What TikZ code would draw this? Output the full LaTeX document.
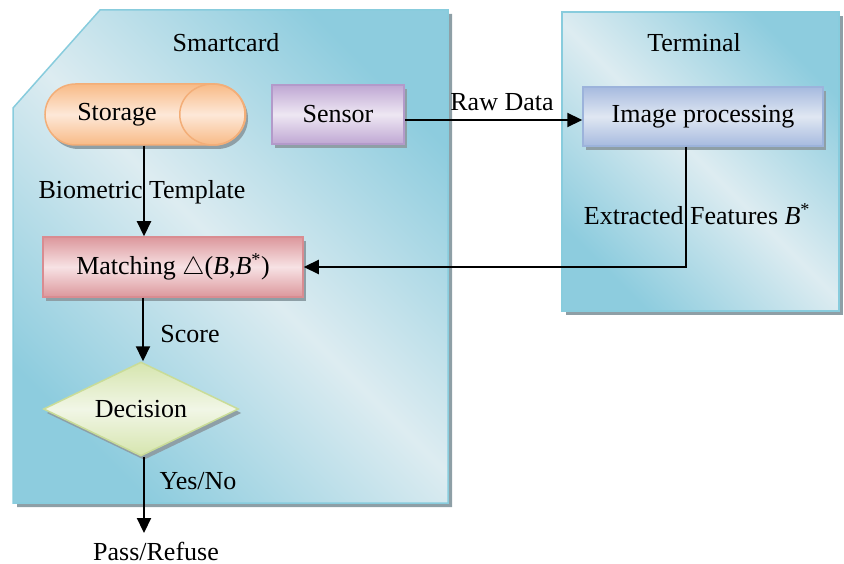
\documentclass[tikz,border=0pt]{standalone}
\usepackage{fontspec}
\setmainfont{Liberation Serif}
\usetikzlibrary{shapes.geometric,shapes.misc,shadows,arrows.meta}
\definecolor{pandark}{HTML}{8DCCDE}
\definecolor{panlight}{HTML}{DDECF1}
\definecolor{panborder}{HTML}{88CCDD}
\definecolor{shadowc}{HTML}{8E9FA6}
\definecolor{orD}{HTML}{F8BA86}
\definecolor{orL}{HTML}{FDE8D8}
\definecolor{orB}{HTML}{F3AE78}
\definecolor{puD}{HTML}{BFA7D3}
\definecolor{puL}{HTML}{EEE7F3}
\definecolor{puB}{HTML}{B39ACA}
\definecolor{blD}{HTML}{A6BADF}
\definecolor{blL}{HTML}{E0E7F2}
\definecolor{blB}{HTML}{9CB3DB}
\definecolor{reD}{HTML}{DC979C}
\definecolor{reL}{HTML}{F7E2E4}
\definecolor{reB}{HTML}{D98C91}
\definecolor{grD}{HTML}{D6E5AE}
\definecolor{grL}{HTML}{F1F6E6}
\definecolor{grB}{HTML}{C9DC98}
\tikzset{
  every node/.style={font=\fontsize{26}{30}\selectfont, inner sep=0pt},
  nshadow/.style={drop shadow={shadow xshift=3pt,shadow yshift=-4pt,fill=shadowc,opacity=1}},
  panel/.style={draw=panborder, line width=1.5pt, shading=axis, bottom color=pandark, top color=pandark, middle color=panlight, shading angle=-45},
  boxbase/.style={line width=1.5pt, shading=axis, shading angle=-35, nshadow},
  arr/.style={line width=2.2pt, -{Triangle[width=14pt,length=15pt]}},
  lbl/.style={anchor=center}
}
\begin{document}
\begin{tikzpicture}[x=1pt,y=-1pt]
\useasboundingbox (0,0) rectangle (844,564);
% panels
\fill[shadowc] (104,14) -- (452,14) -- (452,507) -- (17,507) -- (17,112) -- cycle;
\path[panel] (100,10) -- (448,10) -- (448,503) -- (13,503) -- (13,108) -- cycle;
\fill[shadowc] (566,16) rectangle (843,315);
\path[panel] (562,12) rectangle (839,311);
\node[lbl] (smartcard) at (226,43) {Smartcard};
\node[lbl] (terminal) at (694,43) {Terminal};
% nodes
\node[rounded rectangle, boxbase, draw=orB, top color=orD, bottom color=orD, middle color=orL,
      minimum width=200pt, minimum height=61pt] (storage) at (145,114.5) {};
\draw[orB, line width=1.5pt] ([xshift=-33pt]storage.east) ellipse [x radius=33pt, y radius=30.5pt];
\node[lbl] (storagetxt) at (117,115) {Storage};
\node[rectangle, boxbase, draw=puB, top color=puD, bottom color=puD, middle color=puL,
      minimum width=132pt, minimum height=59pt] (sensor) at (338,114.5) {Sensor};
\node[rectangle, boxbase, draw=blB, top color=blD, bottom color=blD, middle color=blL,
      minimum width=240pt, minimum height=59pt] (imgproc) at (703,116.5) {Image processing};
\node[rectangle, boxbase, draw=reB, top color=reD, bottom color=reD, middle color=reL,
      minimum width=260pt, minimum height=60pt] (matching) at (173,267)
      {Matching $\triangle$(\textit{B},\textit{B}\textsuperscript{*})};
\node[diamond, boxbase, draw=grB, top color=grD, bottom color=grD, middle color=grL,
      shape aspect=2, minimum width=195pt, minimum height=94pt] (decision) at (141,409) {Decision};
\node[lbl] (pass) at (156,551) {Pass/Refuse};
\coordinate (passtop) at (144,533);
% connectors
\draw[arr] ([xshift=-1pt]storage.south) -- ([xshift=-1pt]storage.south |- matching.north);
\node[lbl] (biolbl) at (142,192) {Biometric Template};
\draw[arr] ([yshift=-5.5pt]sensor.east) -- ([yshift=-5.5pt]sensor.east -| imgproc.west);
\node[lbl] (rawlbl) at (502,102) {Raw Data};
\draw[arr] ([xshift=-17pt]imgproc.south) |- (matching.east);
\node[lbl] (extlbl) at (697,214) {Extracted Features \textit{B}\textsuperscript{*}};
\draw[arr] ([xshift=2pt]decision.north |- matching.south) -- ([xshift=2pt]decision.north);
\node[lbl] (scorelbl) at (190,334) {Score};
\draw[arr] ([xshift=3pt]decision.south) -- (passtop);
\node[lbl] (yeslbl) at (198,481) {Yes/No};
\end{tikzpicture}
\end{document}
